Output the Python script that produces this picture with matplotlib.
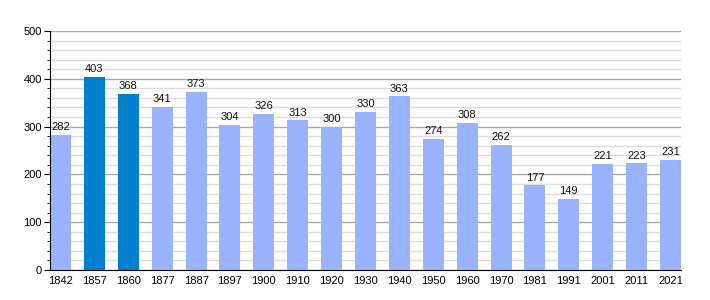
import matplotlib.pyplot as plt
from matplotlib.ticker import MultipleLocator

years = ["1842", "1857", "1860", "1877", "1887", "1897", "1900", "1910", "1920", "1930",
         "1940", "1950", "1960", "1970", "1981", "1991", "2001", "2011", "2021"]
population = [282, 403, 368, 341, 373, 304, 326, 313, 300, 330,
              363, 274, 308, 262, 177, 149, 221, 223, 231]
highlight = ["1857", "1860"]

plt.rcParams['font.family'] = ['Liberation Sans', 'DejaVu Sans']

fig = plt.figure(figsize=(7.1, 3.0), dpi=100)
ax = fig.add_axes([50 / 710, 30 / 300, 631 / 710, 239 / 300])

colors = ['#0080cc' if y in highlight else '#99b3ff' for y in years]
x = range(len(years))
bars = ax.bar(x, population, width=0.62, color=colors, zorder=2)

for xi, v in zip(x, population):
    ax.text(xi, v + 6, str(v), ha='center', va='bottom', fontsize=8, color='#111111', zorder=3)

ax.set_xlim(-0.31, len(years) - 1 + 0.31)
ax.set_ylim(0, 500)
ax.set_xticks(list(x))
ax.set_xticklabels(years, fontsize=8)
ax.yaxis.set_major_locator(MultipleLocator(100))
ax.yaxis.set_minor_locator(MultipleLocator(20))
ax.tick_params(axis='y', which='major', length=4, labelsize=8, pad=2)
ax.tick_params(axis='y', which='minor', length=2)
ax.tick_params(axis='x', length=0, pad=4)

ax.grid(axis='y', which='major', color='#aaaaaa', linewidth=1, zorder=0)
ax.grid(axis='y', which='minor', color='#dddddd', linewidth=1, zorder=0)

for s in ['top', 'right']:
    ax.spines[s].set_visible(False)
ax.spines['left'].set_color('black')
ax.spines['bottom'].set_color('black')

fig.savefig('out.png', dpi=100)
